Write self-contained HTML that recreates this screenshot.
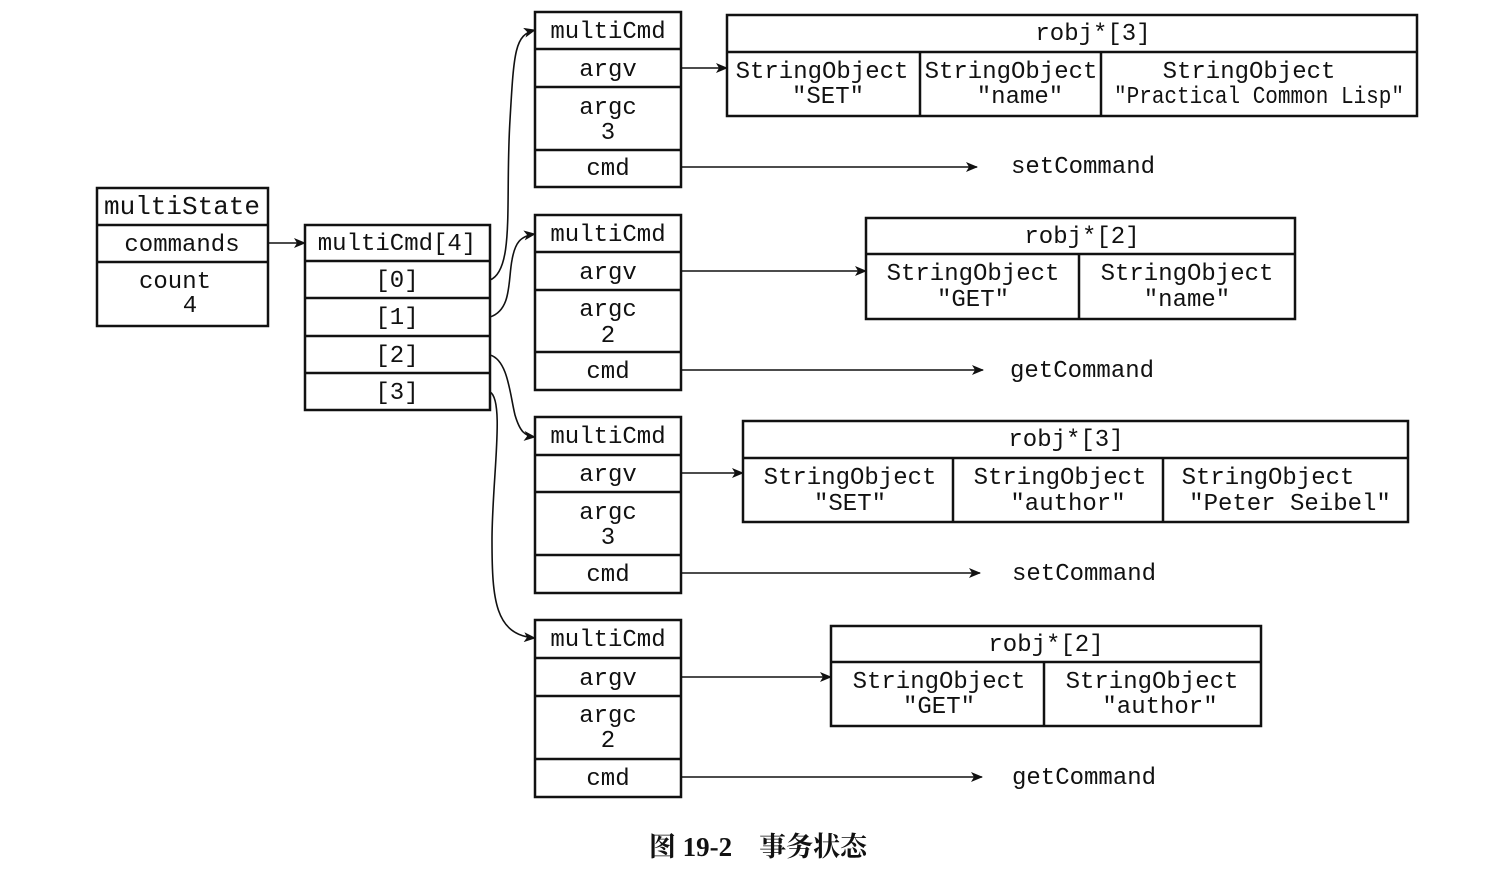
<!DOCTYPE html>
<html><head><meta charset="utf-8"><style>
html,body{margin:0;padding:0;background:#fff;}
svg text{font-family:"Liberation Mono",monospace;font-size:24px;fill:#111;text-anchor:middle;}
</style></head><body>
<svg width="1500" height="864" viewBox="0 0 1500 864" xmlns="http://www.w3.org/2000/svg">
<defs><marker id="a" markerWidth="12" markerHeight="10" refX="11" refY="5" orient="auto" markerUnits="userSpaceOnUse"><path d="M0,0 L12,5 L0,10 L3,5 z" fill="#111"/></marker></defs>
<g fill="none" stroke="#111" stroke-width="2.5">
<!-- multiState -->
<rect x="97" y="188" width="171" height="138"/><line x1="97" y1="225" x2="268" y2="225"/><line x1="97" y1="262" x2="268" y2="262"/>
<!-- multiCmd[4] -->
<rect x="305" y="225" width="185" height="185"/>
<line x1="305" y1="261" x2="490" y2="261"/><line x1="305" y1="298" x2="490" y2="298"/><line x1="305" y1="336" x2="490" y2="336"/><line x1="305" y1="373" x2="490" y2="373"/>
<!-- multiCmd boxes -->
<rect x="535" y="12" width="146" height="175"/><line x1="535" y1="49" x2="681" y2="49"/><line x1="535" y1="87" x2="681" y2="87"/><line x1="535" y1="150" x2="681" y2="150"/>
<rect x="535" y="215" width="146" height="175"/><line x1="535" y1="252" x2="681" y2="252"/><line x1="535" y1="290" x2="681" y2="290"/><line x1="535" y1="352" x2="681" y2="352"/>
<rect x="535" y="417" width="146" height="176"/><line x1="535" y1="455" x2="681" y2="455"/><line x1="535" y1="492" x2="681" y2="492"/><line x1="535" y1="555" x2="681" y2="555"/>
<rect x="535" y="620" width="146" height="177"/><line x1="535" y1="658" x2="681" y2="658"/><line x1="535" y1="696" x2="681" y2="696"/><line x1="535" y1="759" x2="681" y2="759"/>
<!-- robj -->
<rect x="727" y="15" width="690" height="101"/><line x1="727" y1="52" x2="1417" y2="52"/><line x1="920" y1="52" x2="920" y2="116"/><line x1="1101" y1="52" x2="1101" y2="116"/>
<rect x="866" y="218" width="429" height="101"/><line x1="866" y1="254" x2="1295" y2="254"/><line x1="1079" y1="254" x2="1079" y2="319"/>
<rect x="743" y="421" width="665" height="101"/><line x1="743" y1="458" x2="1408" y2="458"/><line x1="953" y1="458" x2="953" y2="522"/><line x1="1163" y1="458" x2="1163" y2="522"/>
<rect x="831" y="626" width="430" height="100"/><line x1="831" y1="662" x2="1261" y2="662"/><line x1="1044" y1="662" x2="1044" y2="726"/>
</g>
<g fill="none" stroke="#111" stroke-width="1.6" marker-end="url(#a)">
<line x1="268" y1="243" x2="305" y2="243"/>
<line x1="681" y1="68" x2="727" y2="68"/>
<line x1="681" y1="271" x2="866" y2="271"/>
<line x1="681" y1="473" x2="743" y2="473"/>
<line x1="681" y1="677" x2="831" y2="677"/>
<line x1="681" y1="167" x2="977" y2="167"/>
<line x1="681" y1="370" x2="983" y2="370"/>
<line x1="681" y1="573" x2="980" y2="573"/>
<line x1="681" y1="777" x2="982" y2="777"/>
<path d="M490,280 C515,270 505,200 510,120 C514,50 515,35 535,30"/>
<path d="M490,317 C512,310 508,280 512,260 C515,243 520,236 535,234"/>
<path d="M490,355 C508,360 510,395 515,415 C520,432 525,436 535,437"/>
<path d="M490,392 C505,400 492,480 492,540 C492,600 495,635 535,638"/>
</g>
<text x="182" y="214" style="font-size:26px">multiState</text>
<text x="182" y="251">commands</text>
<text x="175" y="288">count</text>
<text x="190" y="312">4</text>
<text x="397" y="250">multiCmd[4]</text>
<text x="397" y="287">[0]</text><text x="397" y="324">[1]</text><text x="397" y="362">[2]</text><text x="397" y="399">[3]</text>
<g>
<text x="608" y="38">multiCmd</text><text x="608" y="76">argv</text><text x="608" y="114">argc</text><text x="608" y="139">3</text><text x="608" y="175">cmd</text>
<text x="608" y="241">multiCmd</text><text x="608" y="279">argv</text><text x="608" y="316">argc</text><text x="608" y="342">2</text><text x="608" y="378">cmd</text>
<text x="608" y="443">multiCmd</text><text x="608" y="481">argv</text><text x="608" y="519">argc</text><text x="608" y="544">3</text><text x="608" y="581">cmd</text>
<text x="608" y="646">multiCmd</text><text x="608" y="685">argv</text><text x="608" y="722">argc</text><text x="608" y="747">2</text><text x="608" y="785">cmd</text>
</g>
<g style="text-anchor:start">
<text x="1011" y="173" style="text-anchor:start">setCommand</text>
<text x="1010" y="377" style="text-anchor:start">getCommand</text>
<text x="1012" y="580" style="text-anchor:start">setCommand</text>
<text x="1012" y="784" style="text-anchor:start">getCommand</text>
</g>
<text x="1093" y="40">robj*[3]</text>
<text x="822" y="78">StringObject</text><text x="828" y="103">"SET"</text>
<text x="1011" y="78">StringObject</text><text x="1020" y="103">"name"</text>
<text x="1249" y="78">StringObject</text><text x="1259" y="103" textLength="290" lengthAdjust="spacingAndGlyphs">"Practical Common Lisp"</text>
<text x="1082" y="243">robj*[2]</text>
<text x="973" y="280">StringObject</text><text x="973" y="306">"GET"</text>
<text x="1187" y="280">StringObject</text><text x="1187" y="306">"name"</text>
<text x="1066" y="446">robj*[3]</text>
<text x="850" y="484">StringObject</text><text x="850" y="510">"SET"</text>
<text x="1060" y="484">StringObject</text><text x="1068" y="510">"author"</text>
<text x="1268" y="484">StringObject</text><text x="1290" y="510">"Peter Seibel"</text>
<text x="1046" y="651">robj*[2]</text>
<text x="939" y="688">StringObject</text><text x="939" y="713">"GET"</text>
<text x="1152" y="688">StringObject</text><text x="1160" y="713">"author"</text>
<text x="758" y="856" style="font-family:'Liberation Serif','Noto Serif CJK SC',serif;font-size:27px;font-weight:bold">图 19-2　事务状态</text>
</svg>
</body></html>
